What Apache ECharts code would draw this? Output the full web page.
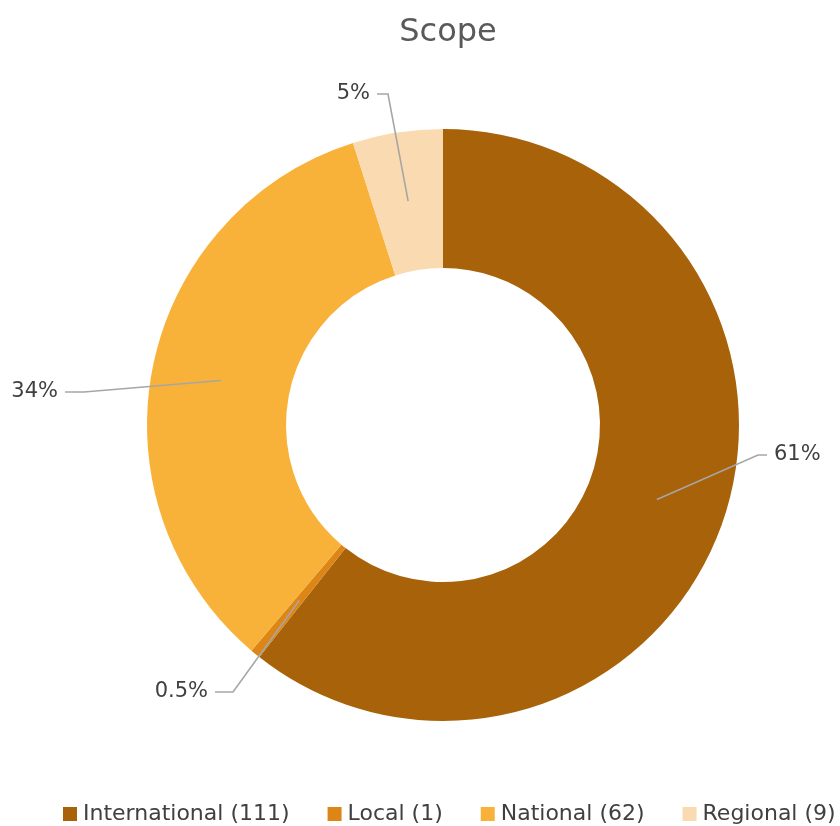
<!DOCTYPE html>
<html>
<head>
<meta charset="utf-8">
<script src="https://cdn.jsdelivr.net/npm/echarts@6/dist/echarts.min.js"></script>
<style>
  html, body { margin: 0; padding: 0; background: #ffffff; }
  #chart { width: 840px; height: 826px; }
</style>
</head>
<body>
<div id="chart"></div>
<script>
// ---- data ----
var categories = ['International', 'Local', 'National', 'Regional'];
var counts = [111, 1, 62, 9];
var colors = ['#a8620a', '#de8615', '#f8b23a', '#fadab0'];

// ---- layout / style ----
var CX = 443, CY = 425, R0 = 157, R1 = 296;
var RMID = (R0 + R1) / 2;
// label placement: [textX, textY, align, elbowX]
var labelPlace = [
  [774, 455, 'left', 758],
  [208, 692, 'right', 233],
  [58, 392, 'right', 84],
  [370, 94, 'right', 388]
];

var total = counts.reduce(function (a, b) { return a + b; }, 0);
function pctText(v) {
  var p = v / total * 100;
  if (p < 1) return (Math.floor(p * 10) / 10).toFixed(1) + '%';
  return Math.round(p) + '%';
}

var chart = echarts.init(document.getElementById('chart'));
var pieData = categories.map(function (c, i) {
  return { name: c, value: counts[i], itemStyle: { color: colors[i] } };
});
var overlayData = categories.map(function (c, i) {
  return { name: c, value: counts[i], itemStyle: { color: 'rgba(0,0,0,0)' } };
});

chart.setOption({
  backgroundColor: '#ffffff',
  animation: false,
  title: {
    text: 'Scope',
    left: 443,
    textAlign: 'center',
    top: 12,
    textStyle: { fontFamily: 'DejaVu Sans', fontSize: 32, fontWeight: 'normal', color: '#595959' }
  },
  legend: {
    top: 798,
    left: 58,
    width: 780,
    itemWidth: 14,
    itemHeight: 14,
    itemGap: 38,
    icon: 'rect',
    data: categories,
    formatter: function (name) {
      return name + ' (' + counts[categories.indexOf(name)] + ')';
    },
    textStyle: { fontFamily: 'DejaVu Sans', fontSize: 22, color: '#404040', padding: [0, 0, 0, 1] }
  },
  series: [{
    type: 'pie',
    z: 2,
    center: [CX, CY],
    radius: [R0, R1],
    startAngle: 90,
    clockwise: true,
    avoidLabelOverlap: false,
    data: pieData,
    label: { show: false },
    labelLine: { show: false },
    emphasis: { disabled: true }
  }, {
    type: 'pie',
    z: 3,
    silent: true,
    center: [CX, CY],
    radius: [R0, RMID],
    startAngle: 90,
    clockwise: true,
    avoidLabelOverlap: false,
    data: overlayData,
    label: {
      show: true,
      position: 'outside',
      formatter: function (p) { return pctText(p.value); },
      fontFamily: 'DejaVu Sans',
      fontSize: 21,
      color: '#404040'
    },
    labelLine: {
      show: true,
      length: 20,
      length2: 10,
      lineStyle: { color: '#a6a6a6', width: 1.6 }
    },
    emphasis: { disabled: true },
    labelLayout: function (params) {
      var i = params.dataIndex;
      var lp = labelPlace[i];
      var pts = params.labelLinePoints;
      var p0;
      if (pts && pts[0]) {
        var dx = pts[0][0] - CX, dy = pts[0][1] - CY;
        var d = Math.sqrt(dx * dx + dy * dy) || 1;
        p0 = [CX + dx / d * RMID, CY + dy / d * RMID];
      } else {
        p0 = [CX, CY];
      }
      var endX = lp[2] === 'left' ? lp[0] - 7 : lp[0] + 7;
      return {
        x: lp[0],
        y: lp[1],
        align: lp[2],
        verticalAlign: 'middle',
        labelLinePoints: [p0, [lp[3], lp[1]], [endX, lp[1]]]
      };
    }
  }]
});
</script>
</body>
</html>
